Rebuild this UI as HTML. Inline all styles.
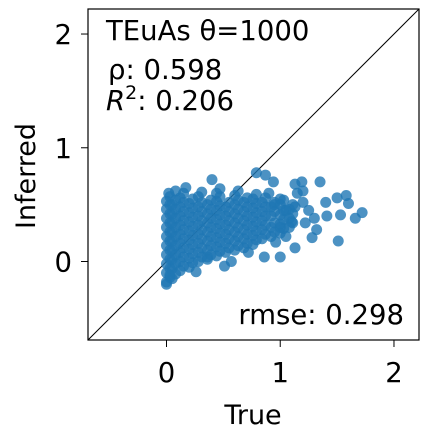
<!DOCTYPE html>
<html><head><meta charset="utf-8"><style>
html,body{margin:0;padding:0;background:#fff;}
text{font-family:"DejaVu Sans","Liberation Sans",sans-serif;}
</style></head><body>
<svg id="chart" width="429" height="439">
<line id="diag" stroke="#000" stroke-width="1"/>
<g id="points"></g>
<rect x="88" y="9" width="331" height="331" fill="none" stroke="#000" stroke-width="1.2"/>
<g id="axes"></g>
<text x="106" y="40" font-size="27.5">TEuAs θ=1000</text>
<text x="108" y="79" font-size="27.5"> ρ: 0.598</text>
<text x="106" y="110" font-size="27.5"><tspan font-style="italic">R</tspan><tspan dy="-11" font-size="19">2</tspan><tspan dy="11">: 0.206</tspan></text>
<text x="404" y="324" font-size="27.5" text-anchor="end">rmse: 0.298</text>
<text x="253" y="424" font-size="27" text-anchor="middle">True</text>
<text transform="translate(35,176) rotate(-90)" font-size="27" text-anchor="middle">Inferred</text>
</svg>
<script>
const xTicks=[0,1,2];
const yTicks=[0,1,2];
const coreX=[0,0.05,0.12,0.2,0.28,0.36,0.44,0.52,0.6,0.68,0.76,0.84,0.92,1.0,1.08];
const coreY=[[-0.18,-0.1,-0.02,0.06,0.14,0.22,0.3,0.38,0.46,0.53],[-0.15,-0.06,0.02,0.1,0.18,0.26,0.34,0.42,0.5],[-0.08,0,0.08,0.16,0.24,0.32,0.4,0.48,0.56],[-0.05,0.03,0.11,0.19,0.27,0.35,0.43,0.51],[0,0.08,0.16,0.24,0.32,0.4,0.48,0.57],[0.02,0.1,0.18,0.26,0.34,0.42,0.5],[0.05,0.13,0.21,0.29,0.37,0.45,0.53,0.6],[0.08,0.16,0.24,0.32,0.4,0.48],[0.1,0.18,0.26,0.34,0.42,0.5,0.58],[0.12,0.2,0.28,0.36,0.44,0.52],[0.15,0.23,0.31,0.39,0.47,0.55],[0.2,0.28,0.36,0.44,0.52],[0.22,0.3,0.4,0.48],[0.25,0.33,0.41,0.5],[0.3,0.38,0.46]];
const extraX=[1.72,1.66,1.53,1.51,1.5,1.58,1.6,1.4,1.35,1.41,1.28,1.32,1.13,1.0,0.86,0.51,0.57,0.26,0,0.79,0.87,0.4,1.19,1.13,0.94,0.17,1.2,1.22,1.13,0.96,0.72,0.36,1.0,1.05,1.1,1.0,1.15,1.25,1.3,1.05,0.95,0.9,1.2,0.02,0.08,0.03];
const extraY=[0.43,0.38,0.41,0.18,0.56,0.58,0.51,0.52,0.7,0.4,0.21,0.28,0.12,0.04,0.04,-0.04,0,-0.09,-0.2,0.78,0.76,0.72,0.7,0.68,0.7,0.65,0.52,0.34,0.48,0.17,0.08,0.04,0.3,0.45,0.35,0.55,0.6,0.45,0.38,0.22,0.5,0.6,0.62,0.6,0.62,-0.12];
const lo=-0.69,hi=2.22;
const sx=v=>88+(v-lo)/(hi-lo)*331;
const sy=v=>340-(v-lo)/(hi-lo)*331;
const NS="http://www.w3.org/2000/svg";
const pg=document.getElementById('points');
function dot(x,y){const c=document.createElementNS(NS,'circle');c.setAttribute('cx',sx(x));c.setAttribute('cy',sy(y));c.setAttribute('r',5.5);c.setAttribute('fill','#1f77b4');c.setAttribute('fill-opacity','0.8');


pg.appendChild(c);}
coreX.forEach((x,i)=>coreY[i].forEach(y=>{dot(x,y);dot(x+0.03,y+0.04);}));
extraX.forEach((x,i)=>dot(x,extraY[i]));
const d=document.getElementById('diag');d.setAttribute('x1',sx(lo));d.setAttribute('y1',sy(lo));d.setAttribute('x2',sx(hi));d.setAttribute('y2',sy(hi));
const ag=document.getElementById('axes');
xTicks.forEach(t=>{const l=document.createElementNS(NS,'line');l.setAttribute('x1',sx(t));l.setAttribute('x2',sx(t));l.setAttribute('y1',340);l.setAttribute('y2',347);l.setAttribute('stroke','#000');


ag.appendChild(l);const tx=document.createElementNS(NS,'text');tx.setAttribute('x',sx(t));tx.setAttribute('y',382);tx.setAttribute('font-size','27.5');tx.setAttribute('text-anchor','middle');tx.textContent=t;


ag.appendChild(tx);});
yTicks.forEach(t=>{const l=document.createElementNS(NS,'line');l.setAttribute('y1',sy(t));l.setAttribute('y2',sy(t));l.setAttribute('x1',81);l.setAttribute('x2',88);l.setAttribute('stroke','#000');


ag.appendChild(l);const tx=document.createElementNS(NS,'text');tx.setAttribute('x',72);tx.setAttribute('y',sy(t)+10);tx.setAttribute('font-size','27.5');tx.setAttribute('text-anchor','end');tx.textContent=t;


ag.appendChild(tx);});
</script>
</body></html>
